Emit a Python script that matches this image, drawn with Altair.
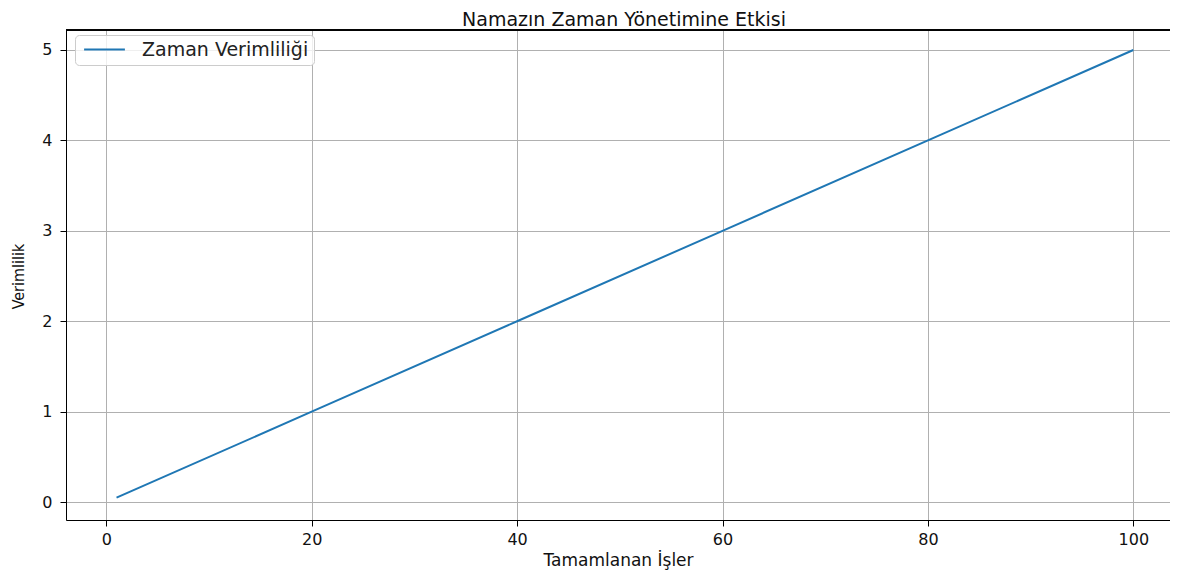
import altair as alt
import pandas as pd

# Data
tasks = [1, 20, 40, 60, 80, 100]
efficiency = [0.05, 1.0, 2.0, 3.0, 4.0, 5.0]
series_name = "Zaman Verimliliği"
x_ticks = [0, 20, 40, 60, 80, 100]
y_ticks = [0, 1, 2, 3, 4, 5]

df = pd.DataFrame({"x": tasks, "y": efficiency, "series": [series_name] * len(tasks)})

W, H = 1104, 490
FONT = "DejaVu Sans"
COND = "DejaVu Sans Condensed, DejaVu Sans"

line = alt.Chart(df).mark_line(strokeWidth=2).encode(
    x=alt.X("x:Q",
            scale=alt.Scale(domain=[-3.92, 103.57], nice=False, zero=False),
            axis=alt.Axis(values=x_ticks, title="Tamamlanan İşler", grid=True,
                          gridColor="#b0b0b0", gridWidth=1, domainColor="#000",
                          tickColor="#000", tickSize=6, labelPadding=5,
                          labelFontSize=16, titleFontSize=17, titleFontWeight="normal",
                          titlePadding=5, labelFont=FONT, titleFont=FONT,
                          labelColor="#111", titleColor="#111", labelFlush=False)),
    y=alt.Y("y:Q",
            scale=alt.Scale(domain=[-0.1975, 5.221], nice=False, zero=False),
            axis=alt.Axis(values=y_ticks, title="Verimlilik", grid=True,
                          gridColor="#b0b0b0", gridWidth=1, domainColor="#000",
                          tickColor="#000", tickSize=6, labelPadding=8,
                          labelFontSize=16, titleFontSize=16, titleFontWeight="normal",
                          titleX=-43, titleY=246, titleBaseline="alphabetic",
                          labelFont=FONT, titleFont=COND,
                          labelColor="#111", titleColor="#111", labelFlush=False)),
    color=alt.Color("series:N",
                    scale=alt.Scale(domain=[series_name], range=["#1f77b4"]),
                    legend=alt.Legend(title=None, orient="none", legendX=9, legendY=5,
                                      symbolType="M-2.4,0H2.4", symbolSize=289,
                                      symbolStrokeWidth=2, symbolOffset=15,
                                      labelFontSize=19, labelLimit=400,
                                      labelFont=FONT, labelColor="#222",
                                      labelOffset=28, padding=5,
                                      fillColor="rgba(255,255,255,0.8)",
                                      strokeColor="#cccccc", cornerRadius=4)),
)

top_border = alt.Chart(df).mark_rule(color="#000", strokeWidth=1).encode(
    x=alt.value(0), x2=alt.value(W + 10), y=alt.value(0)
)

chart = alt.layer(line, top_border).properties(
    width=W, height=H,
    autosize=alt.AutoSizeParams(type="none"),
    padding={"left": 58, "top": 22, "right": 0, "bottom": 50},
    title=alt.TitleParams("Namazın Zaman Yönetimine Etkisi", fontSize=19,
                          font=FONT, fontWeight="normal", color="#111",
                          offset=0, dx=6),
).configure_view(stroke=None).configure(background="white")

chart.save("out.html", embed_options={"renderer": "svg", "actions": False})
